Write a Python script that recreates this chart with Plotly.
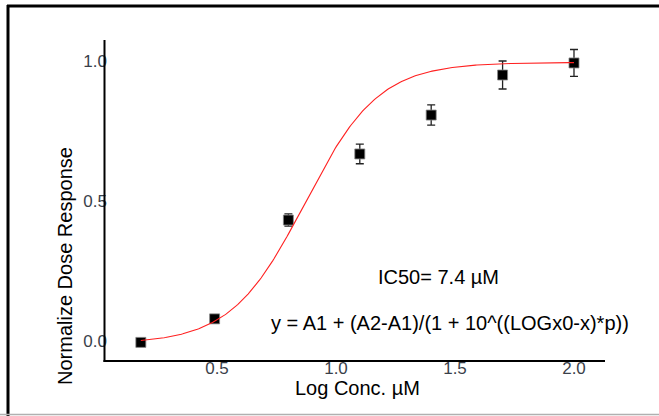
import numpy as np
import plotly.graph_objects as go

# Measured data (log concentration in µM, normalized response, error)
log_conc = [0.18, 0.49, 0.80, 1.10, 1.40, 1.70, 2.00]
response = [-0.005, 0.079, 0.432, 0.668, 0.807, 0.950, 0.993]
err = [0.0, 0.0, 0.022, 0.035, 0.036, 0.050, 0.048]

# Fitted dose-response parameters (y = A1 + (A2-A1)/(1 + 10^((LOGx0-x)*p)))
A1 = -0.01
A2 = 0.995
IC50 = 7.4
p = 2.8
LOGx0 = np.log10(IC50)

x_ticks = [0.5, 1.0, 1.5, 2.0]
y_ticks = [0.0, 0.5, 1.0]

xf = np.linspace(log_conc[0], log_conc[-1], 300)
yf = A1 + (A2 - A1) / (1 + 10 ** ((LOGx0 - xf) * p))

W, H = 659, 416
L, R, T, B = 108, 54, 40, 60
pw, ph = W - L - R, H - T - B

def px(x):
    return (x - L) / pw

def py(y):
    return (H - B - y) / ph

fig = go.Figure()
fig.add_trace(go.Scatter(
    x=log_conc, y=response, mode="markers",
    marker=dict(symbol="square", size=10, color="black",
                line=dict(color="#888", width=0.8)),
    error_y=dict(type="data", array=err, visible=True, color="#222",
                 thickness=1.3, width=4),
    showlegend=False, cliponaxis=False))
fig.add_trace(go.Scatter(
    x=xf, y=yf, mode="lines", line=dict(color="#ff2020", width=1.1),
    showlegend=False, cliponaxis=False))

font = "Liberation Sans, Arial, sans-serif"
fig.update_layout(
    width=W, height=H,
    margin=dict(l=L, r=R, t=T, b=B),
    paper_bgcolor="white", plot_bgcolor="white",
    font=dict(family=font, color="black"),
    xaxis=dict(range=[0.042, 2.1303], tickvals=x_ticks, ticktext=["0.5", "1.0", "1.5", "2.0"],
               showgrid=False, zeroline=False, showline=False,
               ticks="", ticklen=0, tickfont=dict(size=17, color="#3a3f4a"),
               ticklabelstandoff=0),
    yaxis=dict(range=[-0.0536, 1.075], tickvals=y_ticks, ticktext=["0.0", "0.5", "1.0"],
               showgrid=False, zeroline=False, showline=False,
               ticks="", ticklen=0, tickfont=dict(size=17, color="#3a3f4a"),
               ticklabelstandoff=0),
    annotations=[
        dict(text="Normalize Dose Response", x=px(65), y=py(266), xref="paper", yref="paper",
             textangle=-90, showarrow=False, font=dict(size=20, color="black"),
             xanchor="center", yanchor="middle"),
        dict(text="Log Conc. µM", x=px(357), y=py(388), xref="paper", yref="paper",
             showarrow=False, font=dict(size=20, color="black"),
             xanchor="center", yanchor="middle"),
        dict(text="IC50= 7.4 µM", x=px(438), y=py(277), xref="paper", yref="paper",
             showarrow=False, font=dict(size=20, color="black"),
             xanchor="center", yanchor="middle"),
        dict(text="y = A1 + (A2-A1)/(1 + 10^((LOGx0-x)*p))", x=px(450), y=py(323),
             xref="paper", yref="paper", showarrow=False,
             font=dict(size=20, color="black"), xanchor="center", yanchor="middle"),
    ],
    shapes=[
        # axis lines
        dict(type="line", xref="paper", yref="paper", x0=px(104.5), x1=px(104.5), y0=py(40), y1=py(362),
             line=dict(color="black", width=2)),
        dict(type="line", xref="paper", yref="paper", x0=px(103.5), x1=px(605), y0=py(361), y1=py(361),
             line=dict(color="black", width=2)),
        # frame
        dict(type="line", xref="paper", yref="paper", x0=px(8), x1=px(8), y0=py(5), y1=py(416),
             line=dict(color="black", width=3)),
        dict(type="line", xref="paper", yref="paper", x0=px(7), x1=px(659), y0=py(6), y1=py(6),
             line=dict(color="black", width=3)),
        dict(type="line", xref="paper", yref="paper", x0=px(0), x1=px(659), y0=py(414.5), y1=py(414.5),
             line=dict(color="#b0b0b0", width=1.5)),
    ],
)

fig.write_html("out.html")
